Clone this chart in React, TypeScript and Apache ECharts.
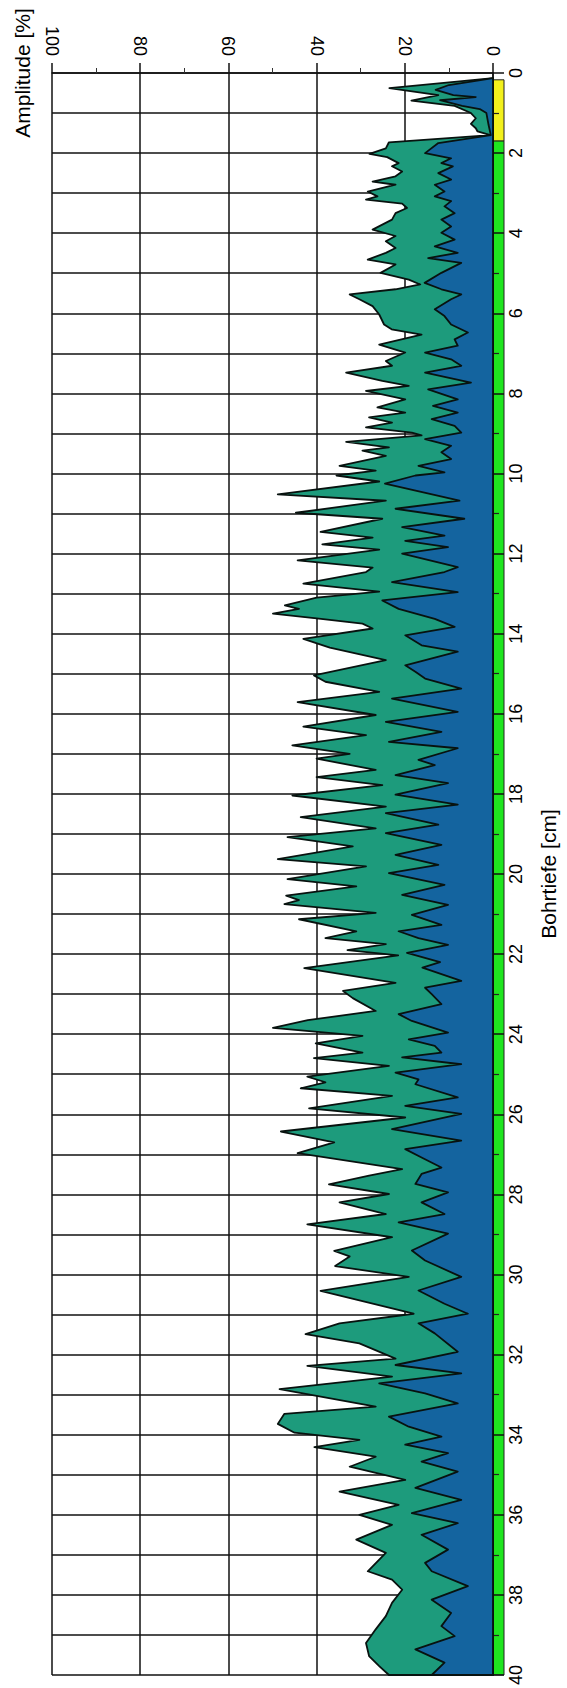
import { useEffect, useRef } from "react";
import * as echarts from "echarts";

// Outer envelope (teal area): depth [cm] and amplitude [%]
const outerDepth = [
  0.13, 0.38, 0.55, 0.69, 0.82, 1.0, 1.13, 1.27, 1.38, 1.46, 1.55, 1.73, 1.88, 2.02, 2.1, 2.25, 2.33, 2.46, 2.58, 2.71,
  2.79, 2.96, 3.08, 3.16, 3.26, 3.37, 3.5, 3.66, 3.91, 4.07, 4.2, 4.37, 4.49, 4.66, 4.78, 4.99, 5.16, 5.28, 5.4, 5.53,
  5.65, 5.82, 6.03, 6.28, 6.4, 6.53, 6.78, 6.98, 7.19, 7.31, 7.48, 7.69, 7.81, 7.94, 8.15, 8.35, 8.48, 8.6, 8.73, 8.85,
  8.98, 9.05, 9.21, 9.35, 9.43, 9.56, 9.81, 9.93, 10.05, 10.2, 10.52, 10.68, 10.98, 11.13, 11.46, 11.6, 11.77, 11.9, 12.17, 12.35,
  12.46, 12.75, 12.95, 13.1, 13.29, 13.38, 13.5, 13.62, 13.75, 13.87, 14.13, 14.35, 14.66, 15.04, 15.2, 15.45, 15.71, 16.03, 16.32, 16.53,
  16.79, 17.0, 17.12, 17.4, 17.58, 17.78, 18.04, 18.32, 18.58, 18.86, 19.08, 19.31, 19.63, 19.81, 20.13, 20.31, 20.54, 20.65, 20.75, 20.97,
  21.13, 21.43, 21.6, 21.75, 21.9, 22.03, 22.35, 22.72, 22.92, 23.1, 23.42, 23.65, 23.84, 24.04, 24.23, 24.46, 24.6, 24.79, 25.06, 25.2,
  25.35, 25.54, 25.85, 26.08, 26.43, 26.7, 26.97, 27.37, 27.53, 27.75, 27.99, 28.2, 28.49, 28.75, 29.07, 29.41, 29.55, 29.79, 30.06, 30.41,
  30.98, 31.22, 31.49, 31.72, 32.1, 32.28, 32.55, 32.86, 33.3, 33.48, 33.73, 33.95, 34.13, 34.31, 34.55, 34.8, 35.13, 35.42, 35.75, 36.0,
  36.25, 36.62, 36.95, 37.41, 37.62, 37.87, 38.2, 38.53, 38.86, 39.2, 39.53, 39.78, 40.0,
];
const outerAmp = [
  0, 23.5, 12.4, 18.5, 8.7, 5, 3.9, 5, 3.9, 3.5, 0.6, 23.6, 24.3, 28, 24, 21.4, 22.9, 20.6, 22.1, 27.3,
  22.1, 28.4, 26.2, 28.8, 20.6, 19.5, 22.1, 22.9, 27.3, 22.1, 24.3, 22.1, 24.3, 28.4, 22.1, 25.5, 19.1, 16.5, 22.1, 32.5,
  30.3, 27.3, 25.8, 24.7, 23, 16.2, 25.8, 19.9, 24.3, 22.9, 33.3, 25.1, 19.1, 28.8, 19.9, 26.2, 19.9, 28.1, 22.9, 28.8,
  18.4, 16.2, 33.3, 23.6, 29.6, 24.3, 34.8, 26.6, 35.5, 25.8, 48.8, 24.3, 44.7, 25.1, 39.1, 27.3, 38.7, 25.8, 44.3, 27.3,
  28.8, 43, 25.8, 40, 47.2, 44, 49.9, 40, 29.6, 27.3, 43, 37, 24.3, 40.6, 38, 25.8, 44.3, 26.6, 43, 28.8,
  45.5, 32.5, 40, 26.6, 40, 25.1, 45.5, 24.3, 43.6, 26.6, 46.6, 31.8, 48.8, 28.8, 46.6, 31, 46.9, 44, 47.3, 26.6,
  44, 31, 38, 24.3, 33, 21.5, 42.8, 22.1, 34, 31.8, 26.6, 42, 49.9, 29.6, 40.2, 29.6, 40.6, 23.6, 42.1, 38,
  43.6, 22.9, 41.7, 19.9, 48.1, 36, 44.3, 20.6, 28.1, 37.2, 23.6, 34.8, 24.3, 42.1, 22.9, 36, 32.5, 35.8, 19.1, 39.1,
  18, 34.8, 42.5, 30.3, 22.1, 42.1, 22.9, 48.4, 26.6, 47.3, 48.8, 45, 30.3, 40.5, 26.6, 32.5, 19.9, 34.8, 21.4, 30.3,
  22.9, 31, 24.3, 28.4, 22.9, 20.6, 22.9, 24.3, 26.6, 28.8, 28.1, 25.8, 23.6,
];

// Inner curve (blue area): depth [cm] and amplitude [%]
const innerDepth = [
  0.13, 0.3, 0.42, 0.55, 0.6, 0.68, 0.82, 0.9, 1.0, 1.3, 1.55, 1.75, 2.0, 2.13, 2.25, 2.33, 2.5, 2.66, 2.79, 2.96,
  3.08, 3.2, 3.33, 3.5, 3.66, 3.83, 3.99, 4.16, 4.33, 4.49, 4.62, 4.74, 4.99, 5.24, 5.4, 5.53, 5.65, 5.9, 6.07, 6.28,
  6.48, 6.65, 6.81, 6.98, 7.15, 7.31, 7.48, 7.73, 7.9, 8.15, 8.31, 8.48, 8.64, 8.81, 8.98, 9.14, 9.31, 9.47, 9.64, 9.81,
  9.97, 10.05, 10.25, 10.68, 10.88, 11.13, 11.34, 11.55, 11.68, 11.84, 12.0, 12.34, 12.46, 12.71, 12.96, 13.17, 13.38, 13.63, 13.83, 14.04,
  14.29, 14.45, 14.79, 14.95, 15.12, 15.37, 15.62, 15.95, 16.2, 16.45, 16.7, 16.86, 17.15, 17.28, 17.53, 17.73, 18.02, 18.27, 18.48, 18.77,
  18.98, 19.27, 19.52, 19.77, 19.98, 20.27, 20.52, 20.77, 21.02, 21.27, 21.43, 21.6, 21.77, 21.97, 22.2, 22.34, 22.67, 22.84, 23.0, 23.25,
  23.5, 23.67, 23.96, 24.13, 24.29, 24.46, 24.58, 24.75, 24.96, 25.13, 25.25, 25.58, 25.79, 25.99, 26.37, 26.66, 26.87, 27.08, 27.33, 27.49,
  27.74, 27.95, 28.2, 28.49, 28.7, 28.98, 29.4, 29.65, 30.06, 30.4, 30.73, 30.98, 31.22, 31.47, 31.93, 32.26, 32.47, 32.72, 32.97, 33.22,
  33.55, 33.8, 34.05, 34.25, 34.46, 34.67, 34.92, 35.33, 35.63, 35.96, 36.21, 36.5, 36.87, 37.2, 37.41, 37.78, 38.12, 38.45, 38.78, 39.03,
  39.36, 39.69, 40.0,
];
const innerAmp = [
  0, 10, 13, 9, 3.9, 12, 7, 3, 1.5, 1, 0.5, 12.4, 15.4, 9.5, 11.7, 9.1, 12.4, 9.5, 13.2, 11,
  13.2, 9.5, 11, 8.7, 11.7, 9.5, 11.7, 8.7, 13.2, 8, 14.7, 7.2, 11.7, 15.5, 11.7, 7.2, 9.5, 13.2, 11, 9.5,
  5.7, 8.7, 8, 15.4, 9.5, 7.2, 15.4, 5, 14.7, 8, 13.6, 8, 13.9, 8.7, 7.2, 15.4, 9.5, 11.7, 9.5, 16.9,
  11, 17.6, 24.5, 7.6, 22.1, 6.5, 20.6, 11, 19.9, 10.2, 20.6, 8, 11, 22.9, 8, 25.1, 21.4, 13.2, 8.7, 19.9,
  16.2, 8, 19.9, 17.6, 15.4, 7.2, 22.9, 8, 24.3, 11.7, 23.6, 8, 16.9, 13.2, 22.1, 10.2, 22.1, 8, 24.3, 12.4,
  24.3, 11.7, 22.1, 12.4, 23.6, 11, 20.6, 10.2, 18.4, 11.7, 21.4, 16.9, 10.2, 19.5, 12, 16, 7.2, 15.4, 13.9, 11.7,
  21.4, 18.4, 10.2, 19.1, 13.2, 11.7, 20.6, 7.2, 22.1, 16.9, 17.6, 8, 19.9, 7.2, 22.9, 7.2, 19.9, 16.2, 11.7, 16.2,
  17.6, 10.2, 16.2, 11, 21.4, 10.2, 18.4, 15.4, 7.2, 16.9, 11, 5.7, 16.9, 13.2, 8, 22.1, 7.2, 25.8, 15.4, 8,
  23.6, 19.1, 11.7, 19.9, 10.2, 16.2, 8, 17.6, 7.2, 18.4, 8, 16.2, 10.2, 15.4, 13.9, 5.7, 13.9, 9.5, 11.7, 8.7,
  17.6, 11, 13.9,
];

// Coloured strip along the depth axis
const stripStart = [0.17, 1.7];
const stripEnd = [1.7, 40];
const stripColor = ["#f2f01c", "#1fe51f"];

const FONT = 'Arial, "Liberation Sans", Helvetica, sans-serif';

export default function App() {
  const ref = useRef<HTMLDivElement>(null);

  useEffect(() => {
    document.body.style.margin = "0";
    const chart = echarts.init(ref.current!, null, { renderer: "svg" });

    const areaRenderer = (depths: number[], amps: number[], fill: string) => (_params: any, api: any) => {
      const pts: number[][] = [api.coord([0, depths[0]])];
      for (let i = 0; i < depths.length; i++) pts.push(api.coord([amps[i], depths[i]]));
      pts.push(api.coord([0, depths[depths.length - 1]]));
      return {
        type: "polygon",
        shape: { points: pts },
        style: { fill, stroke: "#08120f", lineWidth: 1.8, lineJoin: "round" },
      };
    };

    const axisLineStyle = { color: "#111", width: 1.5 };

    chart.setOption({
      animation: false,
      grid: { left: 52, right: 68, top: 73, bottom: 9 },
      xAxis: {
        type: "value",
        position: "top",
        inverse: true,
        min: 0,
        max: 100,
        interval: 20,
        name: "Amplitude [%]",
        nameLocation: "end",
        nameRotate: 90,
        nameGap: 19,
        nameTextStyle: { fontSize: 21, color: "#000", fontFamily: FONT },
        axisLine: { show: true, onZero: false, lineStyle: axisLineStyle },
        axisTick: { show: true, length: 10, lineStyle: axisLineStyle },
        minorTick: { show: true, splitNumber: 2, length: 5, lineStyle: { color: "#333", width: 1 } },
        axisLabel: { rotate: 90, margin: 17, fontSize: 18, color: "#000", fontFamily: FONT },
        splitLine: { show: true, lineStyle: axisLineStyle },
        minorSplitLine: { show: false },
      },
      yAxis: {
        type: "value",
        position: "right",
        inverse: true,
        min: 0,
        max: 40,
        interval: 2,
        name: "Bohrtiefe [cm]",
        nameLocation: "middle",
        nameGap: 45,
        nameTextStyle: { fontSize: 21, color: "#000", fontFamily: FONT },
        axisLine: { show: true, onZero: false, lineStyle: axisLineStyle },
        axisTick: { show: true, length: 11, lineStyle: axisLineStyle },
        minorTick: { show: true, splitNumber: 2, length: 6, lineStyle: { color: "#222", width: 1.2 } },
        axisLabel: { rotate: 90, margin: 14, fontSize: 18, color: "#000", fontFamily: FONT },
        splitLine: { show: true, lineStyle: axisLineStyle },
        minorSplitLine: { show: true, lineStyle: axisLineStyle },
      },
      series: [
        {
          type: "custom",
          name: "Streifen",
          coordinateSystem: "cartesian2d",
          z: -1,
          silent: true,
          data: stripStart.map((s, i) => [0, s, stripEnd[i]]),
          encode: { x: 0, y: 1 },
          renderItem: (params: any, api: any) => {
            const p0 = api.coord([0, api.value(1)]);
            const p1 = api.coord([0, api.value(2)]);
            return {
              type: "rect",
              shape: { x: p0[0], y: p0[1], width: 11, height: p1[1] - p0[1] },
              style: { fill: stripColor[params.dataIndex], stroke: "#222", lineWidth: 1 },
            };
          },
        },
        {
          type: "custom",
          name: "Amplitude max",
          coordinateSystem: "cartesian2d",
          silent: true,
          data: [[0, 0]],
          renderItem: areaRenderer(outerDepth, outerAmp, "#1d9b7c"),
        },
        {
          type: "custom",
          name: "Amplitude",
          coordinateSystem: "cartesian2d",
          silent: true,
          data: [[0, 0]],
          renderItem: areaRenderer(innerDepth, innerAmp, "#14649f"),
        },
      ],
    });

    return () => chart.dispose();
  }, []);

  return <div ref={ref} style={{ width: 567, height: 1688 }} />;
}
